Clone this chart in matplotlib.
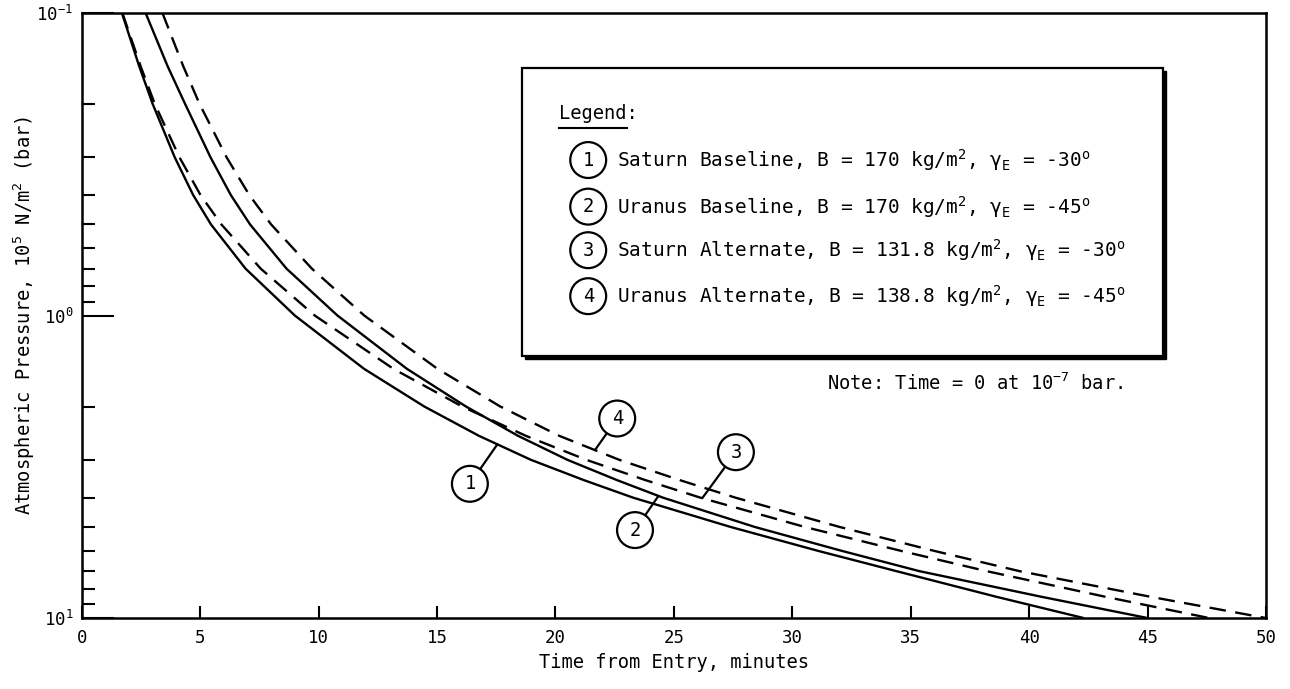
import numpy as np
import matplotlib
matplotlib.use("Agg")
import matplotlib.pyplot as plt
from matplotlib.patches import Rectangle
from matplotlib.transforms import offset_copy
from matplotlib.ticker import FixedLocator, NullFormatter

pressure = [0.1, 0.15, 0.2, 0.3, 0.4, 0.5, 0.7, 1.0, 1.5, 2.0, 2.5, 3.0, 3.5,
            4.0, 5.0, 6.0, 7.0, 8.5, 10.0]

# time from entry (minutes) for each trajectory
t_saturn_base = [1.7, 2.43, 3.0, 3.93, 4.71, 5.46, 6.92, 9.0, 11.92, 14.47, 16.78, 18.97, 21.2,
                 23.28, 27.4, 31.1, 34.4, 38.6, 42.3]
t_uranus_base = [2.7, 3.63, 4.37, 5.44, 6.30, 7.11, 8.65, 10.8, 13.73, 16.23, 18.43, 20.51, 22.6,
                 24.54, 28.42, 32.1, 35.37, 40.5, 45.0]
t_saturn_alt = [1.72, 2.49, 3.09, 4.13, 5.02, 5.9, 7.56, 9.84, 13.16, 16.07, 18.76, 21.31, 23.8,
                26.12, 30.53, 34.6, 38.21, 43.2, 47.6]
t_uranus_alt = [3.41, 4.29, 4.98, 6.12, 7.08, 8.0, 9.72, 11.93, 15.02, 17.68, 20.17, 22.7, 25.25,
                27.6, 32.0, 36.0, 39.6, 45.1, 50.0]

deg = "$^{\\mathrm{o}}$"
legend_labels = [
    "Saturn Baseline, B = 170 kg/m$^2$, $\\gamma_E$ = -30" + deg,
    "Uranus Baseline, B = 170 kg/m$^2$, $\\gamma_E$ = -45" + deg,
    "Saturn Alternate, B = 131.8 kg/m$^2$, $\\gamma_E$ = -30" + deg,
    "Uranus Alternate, B = 138.8 kg/m$^2$, $\\gamma_E$ = -45" + deg,
]

plt.rcParams["font.family"] = ["DejaVu Sans Mono", "DejaVu Sans"]
plt.rcParams["mathtext.fontset"] = "custom"
plt.rcParams["mathtext.rm"] = "DejaVu Sans Mono"
plt.rcParams["mathtext.it"] = "DejaVu Sans Mono"
plt.rcParams["mathtext.bf"] = "DejaVu Sans Mono:bold"

fig = plt.figure(figsize=(12.9, 6.89), dpi=100)
ax = fig.add_axes([0.0633, 0.1030, 0.9181, 0.8781])

lw = 1.7
curves = [
    (t_saturn_base, None),
    (t_uranus_base, None),
    (t_saturn_alt, (7, 4)),
    (t_uranus_alt, (7, 4)),
]
for times, dash in curves:
    line, = ax.plot(times, pressure, color="black", lw=lw, solid_capstyle="butt",
                    solid_joinstyle="round")
    if dash:
        line.set_dashes(dash)

ax.set_yscale("log")
ax.set_ylim(10, 0.1)
ax.set_xlim(0, 50)

ax.set_xticks(np.arange(0, 51, 5))
ax.set_xticklabels([str(v) for v in range(0, 51, 5)])
ax.yaxis.set_major_locator(FixedLocator([0.1, 1, 10]))
ax.set_yticklabels(["$10^{-1}$", "$10^{0}$", "$10^{1}$"])
minor = [m * d for d in (0.1, 1) for m in range(2, 10)]
ax.yaxis.set_minor_locator(FixedLocator(minor))
ax.yaxis.set_minor_formatter(NullFormatter())
ax.xaxis.set_minor_locator(FixedLocator([]))

ax.tick_params(axis="x", which="major", direction="in", length=9, width=1.5,
               labelsize=12.5, pad=8, top=False)
ax.tick_params(axis="y", which="major", direction="in", length=23, width=1.5,
               labelsize=12.5, pad=6, right=False)
ax.tick_params(axis="y", which="minor", direction="in", length=9, width=1.5,
               right=False)
for s in ax.spines.values():
    s.set_linewidth(1.8)

ax.set_xlabel("Time from Entry, minutes", fontsize=13.5)
ax.xaxis.set_label_coords(0.5, -0.073)
ax.xaxis.label.set_va("center")
ax.set_ylabel("Atmospheric Pressure, 10$^5$ N/m$^2$ (bar)", fontsize=13.5)
ax.yaxis.set_label_coords(-0.0487, 0.5)
ax.yaxis.label.set_va("center")

# curve call-outs: circle position and point on the curve the leader reaches
callouts = [
    ("1", t_saturn_base, 17.55, (16.39, 3.6)),
    ("2", t_uranus_base, 24.35, (23.36, 5.12)),
    ("3", t_saturn_alt, 26.2, (27.62, 2.83)),
    ("4", t_uranus_alt, 21.67, (22.61, 2.19)),
]
circ = dict(boxstyle="circle,pad=0.45", fc="white", ec="black", lw=1.6)
for num, times, xt, xy_text in callouts:
    yt = 10 ** np.interp(xt, times, np.log10(pressure))
    ax.annotate(num, xy=(xt, yt), xytext=xy_text, fontsize=13.5,
                ha="center", va="center", bbox=circ,
                arrowprops=dict(arrowstyle="-", lw=1.6, color="black",
                                shrinkA=0, shrinkB=0))

# legend box with drop shadow
bx0, by0, bw, bh = 0.3715, 0.4331, 0.5415, 0.4755
shadow = Rectangle((bx0, by0), bw, bh,
                   transform=offset_copy(ax.transAxes, fig, x=3, y=-3, units="dots"),
                   fc="black", ec="black", lw=1, zorder=5)
box = Rectangle((bx0, by0), bw, bh, transform=ax.transAxes,
                fc="white", ec="black", lw=1.6, zorder=6)
ax.add_patch(shadow)
ax.add_patch(box)

ax.text(0.403, 0.834, "Legend:", transform=ax.transAxes, fontsize=13.5,
        ha="left", va="center", zorder=7)
ax.plot([0.403, 0.4605], [0.810, 0.810], transform=ax.transAxes,
        color="black", lw=1.5, zorder=7)

rows_y = [0.757, 0.680, 0.608, 0.532]
for i, (label, yy) in enumerate(zip(legend_labels, rows_y)):
    ax.text(0.4277, yy, str(i + 1), transform=ax.transAxes, fontsize=13.5,
            ha="center", va="center", bbox=circ, zorder=7)
    ax.text(0.452, yy, label, transform=ax.transAxes, fontsize=14,
            ha="left", va="center", zorder=7)

ax.text(0.8792, 0.3884, "Note: Time = 0 at 10$^{-7}$ bar.", transform=ax.transAxes,
        fontsize=13.5, ha="right", va="center")

fig.savefig("out.png", dpi=100)
